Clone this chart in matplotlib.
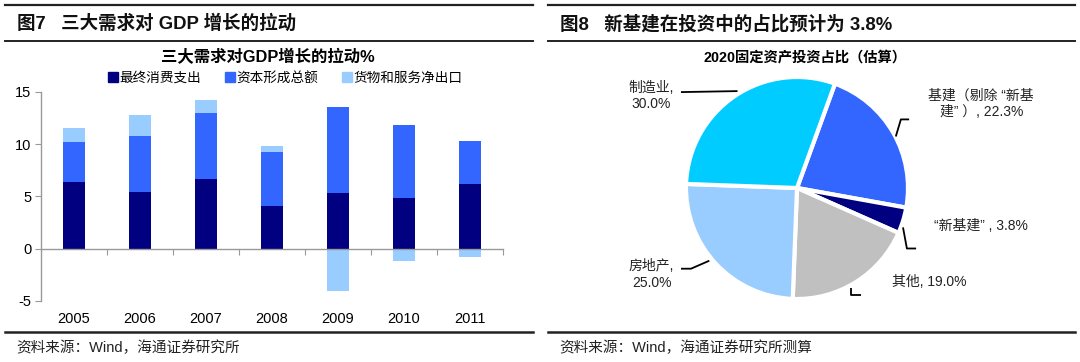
import matplotlib
matplotlib.use("Agg")
import matplotlib.pyplot as plt
from matplotlib.lines import Line2D
import numpy as np

plt.rcParams['font.family'] = ['Liberation Sans', 'Noto Sans CJK SC', 'DejaVu Sans']

# ---------------- data ----------------
years = ['2005', '2006', '2007', '2008', '2009', '2010', '2011']
consumption = [6.4, 5.45, 6.7, 4.1, 5.3, 4.85, 6.2]
capital = [3.8, 5.3, 6.3, 5.15, 8.2, 6.95, 4.05]
net_export = [1.35, 2.0, 1.25, 0.55, -4.0, -1.2, -0.75]
bar_series = ['最终消费支出', '资本形成总额', '货物和服务净出口']
bar_colors = ['#000080', '#3366FF', '#99CCFF']
yticks = [-5, 0, 5, 10, 15]

pie_labels = ['基建（剔除 “新基\n建” ）', '“新基建” ', '其他', '房地产', '制造业']
pie_values = [22.3, 3.8, 19.0, 25.0, 30.0]
pie_colors = ['#3366FF', '#000080', '#C0C0C0', '#99CCFF', '#00CCFF']

W, H = 1080, 362
fig = plt.figure(figsize=(W / 100, H / 100), dpi=100)


def fx(px):
    return px / W


def fy(py):
    return 1 - py / H


# ---------------- frame rules & headers ----------------
for (x0, x1) in [(5, 533), (548, 1075)]:
    fig.add_artist(Line2D([fx(x0), fx(x1)], [fy(5), fy(5)], color='#222222', lw=1.6))
    fig.add_artist(Line2D([fx(x0), fx(x1)], [fy(41), fy(41)], color='#222222', lw=1.4))
    fig.add_artist(Line2D([fx(x0), fx(x1)], [fy(332), fy(332)], color='#222222', lw=1.8))

fig.text(fx(17), fy(24), '图7   三大需求对 GDP 增长的拉动', fontsize=13.3, fontweight='bold',
         va='center', ha='left', color='#111111')
fig.text(fx(560), fy(24), '图8   新基建在投资中的占比预计为 3.8%', fontsize=13.3, fontweight='bold',
         va='center', ha='left', color='#111111')
fig.text(fx(16), fy(348), '资料来源：Wind，海通证券研究所', fontsize=10.5, va='center', ha='left',
         color='#222222')
fig.text(fx(559), fy(348), '资料来源：Wind，海通证券研究所测算', fontsize=10.5, va='center', ha='left',
         color='#222222')

# ---------------- bar chart ----------------
ax = fig.add_axes([fx(41), fy(301), fx(503) - fx(41), fy(91.7) - fy(301)])
x = np.arange(len(years))
bw = 0.32
cons = np.array(consumption)
cap = np.array(capital)
nx = np.array(net_export)
ax.bar(x, cons, bw, color=bar_colors[0], label=bar_series[0], zorder=2)
ax.bar(x, cap, bw, bottom=cons, color=bar_colors[1], label=bar_series[1], zorder=2)
nx_bottom = np.where(nx >= 0, cons + cap, 0)
ax.bar(x, nx, bw, bottom=nx_bottom, color=bar_colors[2], label=bar_series[2], zorder=2)

ax.set_xlim(-0.5, len(years) - 0.5)
ax.set_ylim(-5, 15)
ax.set_yticks(yticks)
ax.set_yticklabels([str(v) for v in yticks], fontsize=10.5)
ax.spines['top'].set_visible(False)
ax.spines['right'].set_visible(False)
ax.spines['bottom'].set_position(('data', 0))
for s in ['left', 'bottom']:
    ax.spines[s].set_color('#999999')
    ax.spines[s].set_linewidth(1.0)
ax.set_xticks(np.arange(len(years)) + 0.5)
ax.set_xticklabels([])
ax.tick_params(axis='x', length=4, color='#999999', direction='out')
ax.tick_params(axis='y', length=4, color='#999999', direction='out', pad=3)
tr = ax.get_xaxis_transform()
for i, yl in enumerate(years):
    ax.text(i, -0.085, yl, transform=tr, ha='center', va='center', fontsize=10.5)

fig.text(fx(268), fy(57), '三大需求对GDP增长的拉动%', fontsize=11.8, fontweight='bold',
         ha='center', va='center')
handles = [Line2D([], [], marker='s', linestyle='none', markersize=6.5, color=c) for c in bar_colors]
fig.legend(handles, bar_series, loc='center', bbox_to_anchor=(fx(285), fy(78)), ncol=3,
           frameon=False, fontsize=9.8, handletextpad=0.1, columnspacing=1.7, handlelength=0.8,
           borderaxespad=0, borderpad=0)

# ---------------- pie chart ----------------
cx, cy, R = 797, 188, 111
px0, px1, py0, py1 = 560, 1075, 62, 322
pax = fig.add_axes([fx(px0), fy(py1), fx(px1) - fx(px0), fy(py0) - fy(py1)])
wedges, _ = pax.pie(pie_values, colors=pie_colors, startangle=70, counterclock=False,
                    wedgeprops=dict(edgecolor='white', linewidth=3))
pax.set_aspect('auto')
pax.set_xlim((px0 - cx) / R, (px1 - cx) / R)
pax.set_ylim((cy - py1) / R, (cy - py0) / R)
pax.axis('off')

fig.text(fx(805), fy(57), '2020固定资产投资占比（估算）', fontsize=10.3, fontweight='bold',
         ha='center', va='center')

pct = ['%.1f%%' % v for v in pie_values]
label_specs = [
    # text, text pos, leader line points (pie data units)
    (pie_labels[0] + ', ' + pct[0], (1.66, 0.76),
     [(0.89, 0.464), (0.936, 0.618), (1.01, 0.618)]),
    (pie_labels[1] + ', ' + pct[1], (1.66, -0.345),
     [(0.955, -0.355), (0.99, -0.545), (1.073, -0.545)]),
    (pie_labels[2] + ', ' + pct[2], (1.19, -0.845),
     [(0.49, -0.9), (0.49, -0.964), (0.573, -0.964)]),
    (pie_labels[3] + ',\n' + pct[3], (-1.31, -0.78),
     [(-0.79, -0.655), (-0.955, -0.727), (-1.045, -0.727)]),
    (pie_labels[4] + ',\n' + pct[4], (-1.31, 0.83),
     [(-0.536, 0.873), (-1.045, 0.864)]),
]
for text, (tx, ty), pts in label_specs:
    pax.text(tx, ty, text, ha='center', va='center', fontsize=10, color='#222222', linespacing=1.25)
    xs, ys = zip(*pts)
    pax.plot(xs, ys, color='black', lw=1.3, solid_capstyle='butt', clip_on=False)

fig.savefig('out.png', dpi=100)
